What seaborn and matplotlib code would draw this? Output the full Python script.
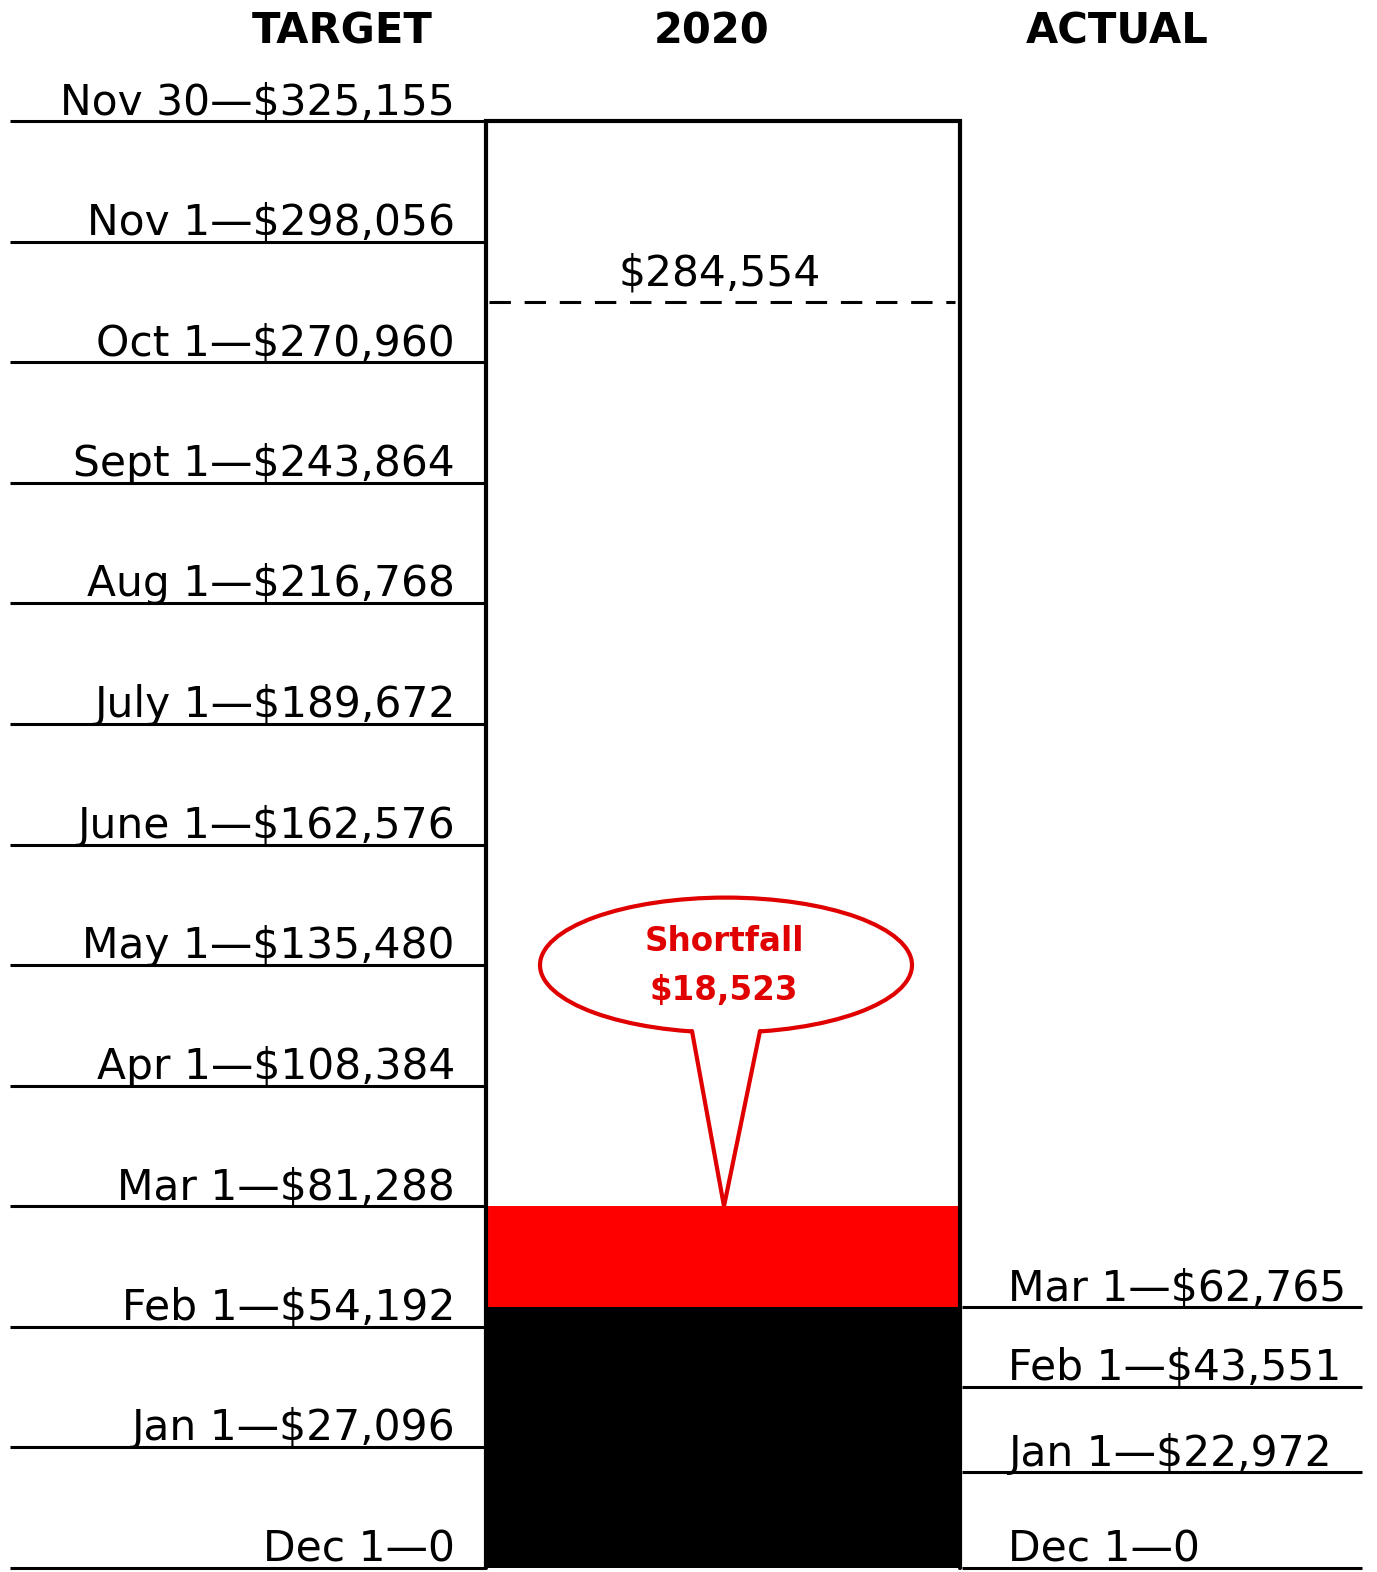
import matplotlib
matplotlib.use("Agg")
import matplotlib.pyplot as plt
from matplotlib.patches import Ellipse, Polygon
import seaborn as sns

# 数据：目标（左）与实际（右）
target_labels = ["Dec 1", "Jan 1", "Feb 1", "Mar 1", "Apr 1", "May 1", "June 1",
                 "July 1", "Aug 1", "Sept 1", "Oct 1", "Nov 1", "Nov 30"]
target_values = [0, 27096, 54192, 81288, 108384, 135480, 162576,
                 189672, 216768, 243864, 270960, 298056, 325155]
actual_labels = ["Dec 1", "Jan 1", "Feb 1", "Mar 1"]
actual_values = [0, 22972, 43551, 62765]
budget_value = 284554
headers = ["TARGET", "2020", "ACTUAL"]

shortfall = target_values[3] - actual_values[-1]

def money(v):
    return "0" if v == 0 else f"${v:,}"

sns.set_theme(style="white")
plt.rcParams["font.family"] = ["DejaVu Sans"]

W, H = 1377, 1572
fig = plt.figure(figsize=(W / 100, H / 100), dpi=100)
ax = fig.add_axes([0, 0, 1, 1])
ax2 = ax.twinx()

# 两侧各自的比例尺（像素锚点）
k1 = target_values[-1] / (1568 - 121)
k2 = actual_values[-1] / (1568 - 1307)
ax.set_ylim(-(H - 1568) * k1, 1568 * k1)
ax2.set_ylim(-(H - 1568) * k2, 1568 * k2)
for a in (ax, ax2):
    a.set_xlim(0, W)
    a.axis("off")

bar_l, bar_r = 486, 960
bar_c = (bar_l + bar_r) / 2
LAB_FS = 30.5

# 红色（目标到三月）+ 黑色（实际）
ax.bar(bar_c, target_values[3], width=bar_r - bar_l, color="#ff0000",
       linewidth=0, zorder=2)
ax2.bar(bar_c, actual_values[-1], width=bar_r - bar_l + 2, color="black",
        linewidth=0, zorder=2)

# 温度计外框
ax.plot([bar_l, bar_l, bar_r, bar_r], [0, target_values[-1], target_values[-1], 0],
        color="black", lw=3, solid_joinstyle="miter", zorder=3)

# 左侧目标线和标签
ax.hlines(target_values, 10, bar_l, color="black", lw=2.2, zorder=3)
for lab, v in zip(target_labels, target_values):
    ax.annotate(f"{lab}\u2014{money(v)}", xy=(455, v), xytext=(0, 5),
                textcoords="offset points", ha="right", va="baseline",
                fontsize=LAB_FS, color="black")

# 右侧实际线和标签
ax2.hlines(actual_values, bar_r + 2, 1362, color="black", lw=2.2, zorder=3)
for lab, v in zip(actual_labels, actual_values):
    ax2.annotate(f"{lab}\u2014{money(v)}", xy=(1008, v), xytext=(0, 5),
                 textcoords="offset points", ha="left", va="baseline",
                 fontsize=LAB_FS, color="black")

# 年度预算虚线
ax.hlines(budget_value, bar_l + 3, bar_r - 5, color="black", lw=2.2,
          linestyles=(0, (7, 4.5)), zorder=3)
ax.annotate(money(budget_value), xy=(720, budget_value), xytext=(0, 12),
            textcoords="offset points", ha="center", va="baseline",
            fontsize=LAB_FS, color="black")

# 标题
for txt, x in zip(headers, [342, 712, 1117]):
    fig.text(x / W, 1 - 43 / H, txt, ha="center", va="baseline",
             fontsize=30, fontweight="bold", color="black")

# 缺口气泡
cx, cy = 726, target_values[5]
ell_h = 135 * k1
ax.add_patch(Ellipse((cx, cy), 372, ell_h, facecolor="white", edgecolor="#e00000",
                     lw=3, zorder=4))
base_y = cy - 66 * k1
tip = (724, target_values[3])
ax.add_patch(Polygon([(692, base_y + 4 * k1), tip, (760, base_y + 4 * k1)],
                     closed=True, facecolor="white", edgecolor="none", zorder=5))
ax.plot([692, tip[0], 760], [base_y, tip[1], base_y], color="#e00000", lw=3,
        solid_joinstyle="miter", zorder=6)
ax.annotate("Shortfall", xy=(724, cy), xytext=(0, 17), textcoords="offset points",
            ha="center", va="center", fontsize=23.5, fontweight="bold",
            color="#e00000", zorder=7)
ax.annotate(money(shortfall), xy=(724, cy), xytext=(0, -18), textcoords="offset points",
            ha="center", va="center", fontsize=23.5, fontweight="bold",
            color="#e00000", zorder=7)

fig.savefig("out.png", dpi=100, facecolor="white")
